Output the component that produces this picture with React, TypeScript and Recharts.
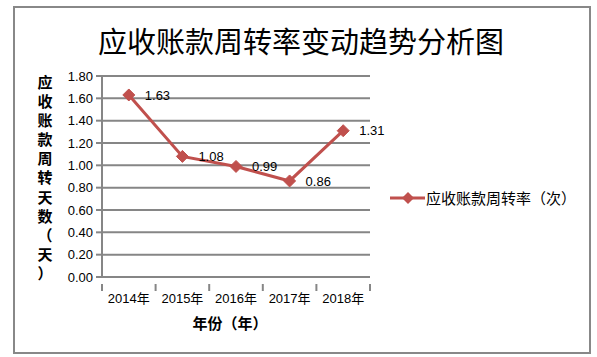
import React from "react";
import { LineChart, Line, XAxis, YAxis, CartesianGrid, LabelList } from "recharts";

const years = ["2014年", "2015年", "2016年", "2017年", "2018年"];
const turnover = [1.63, 1.08, 0.99, 0.86, 1.31];
const yTicks = [0, 0.2, 0.4, 0.6, 0.8, 1.0, 1.2, 1.4, 1.6, 1.8];

const data = years.map((year, i) => ({ year, rate: turnover[i] }));

const RED = "#C0504D";
const GRID = "#868686";
const FONT = "'Liberation Sans', 'Noto Sans CJK SC', sans-serif";
const CJK = "'Noto Sans CJK SC', sans-serif";
const BAND = 53.6;

const Diamond = (props: any) => {
  const { cx, cy } = props;
  if (cx == null || cy == null) return null;
  const r = 6;
  return (
    <polygon
      points={`${cx},${cy - r} ${cx + r},${cy} ${cx},${cy + r} ${cx - r},${cy}`}
      fill={RED}
      stroke={RED}
    />
  );
};

const XTick = (props: any) => {
  const { x, y, payload, index } = props;
  const last = index === years.length - 1;
  return (
    <g>
      <line x1={x - BAND / 2} x2={x - BAND / 2} y1={y - 1} y2={y + 6} stroke={GRID} strokeWidth={2} />
      {last && <line x1={x + BAND / 2} x2={x + BAND / 2} y1={y - 1} y2={y + 6} stroke={GRID} strokeWidth={2} />}
      <text x={x} y={y + 18} textAnchor="middle" fontSize={13} fill="#000" fontFamily={FONT}>
        {payload.value}
      </text>
    </g>
  );
};

export default function App() {
  const yLabel = "应收账款周转天数（天）".split("");
  return (
    <div style={{ position: "absolute", left: 0, top: 0, width: 597, height: 357, background: "#fff" }}>
      <div
        style={{
          position: "absolute",
          left: 13,
          top: 6,
          width: 574,
          height: 344,
          border: "2px solid #888",
        }}
      />
      <div
        style={{
          position: "absolute",
          left: 0,
          width: 602,
          top: 20,
          textAlign: "center",
          fontFamily: CJK,
          fontSize: 29,
          lineHeight: "40px",
          color: "#000",
        }}
      >
        应收账款周转率变动趋势分析图
      </div>
      <div
        style={{
          position: "absolute",
          left: 36,
          top: 72,
          width: 18,
          textAlign: "center",
          fontFamily: CJK,
          fontSize: 15,
          fontWeight: "bold",
          lineHeight: "19.1px",
          color: "#000",
        }}
      >
        {yLabel.map((c, i) => (
          <div key={i} style={{ height: 19.1 }}>{c}</div>
        ))}
      </div>
      <div
        style={{
          position: "absolute",
          left: 180,
          width: 100,
          top: 313,
          textAlign: "center",
          fontFamily: CJK,
          fontSize: 15,
          fontWeight: "bold",
          lineHeight: "20px",
          color: "#000",
        }}
      >
        年份（年）
      </div>
      <div
        style={{
          position: "absolute",
          left: 390,
          top: 188,
          display: "flex",
          alignItems: "center",
          fontFamily: CJK,
          fontSize: 15,
          lineHeight: "20px",
          color: "#000",
        }}
      >
        <svg width={36} height={14}>
          <line x1={0} x2={35} y1={7} y2={7} stroke={RED} strokeWidth={3} />
          <polygon points="18,1 24,7 18,13 12,7" fill={RED} />
        </svg>
        <span>应收账款周转率（次）</span>
      </div>
      <div style={{ position: "absolute", left: 0, top: 0 }}>
        <LineChart width={597} height={357} data={data} margin={{ top: 76, right: 227, bottom: 50, left: 52 }}>
          <CartesianGrid vertical={false} stroke={GRID} strokeWidth={2} />
          <XAxis
            dataKey="year"
            scale="band"
            height={30}
            axisLine={{ stroke: GRID, strokeWidth: 2 }}
            tickLine={false}
            tick={<XTick />}
            interval={0}
          />
          <YAxis
            width={50}
            domain={[0, 1.8]}
            ticks={yTicks}
            interval={0}
            tickFormatter={(v: number) => v.toFixed(2)}
            axisLine={{ stroke: GRID, strokeWidth: 2 }}
            tickLine={{ stroke: GRID, strokeWidth: 2 }}
            tickSize={6}
            tickMargin={3}
            tick={{ fontSize: 13, fill: "#000", fontFamily: FONT }}
          />
          <Line
            dataKey="rate"
            stroke={RED}
            strokeWidth={3}
            dot={<Diamond />}
            activeDot={false}
            isAnimationActive={false}
          >
            <LabelList
              dataKey="rate"
              position="right"
              offset={16}
              formatter={(v: any) => Number(v).toFixed(2)}
              style={{ fontSize: 13, fill: "#000", fontFamily: FONT }}
            />
          </Line>
        </LineChart>
      </div>
    </div>
  );
}
